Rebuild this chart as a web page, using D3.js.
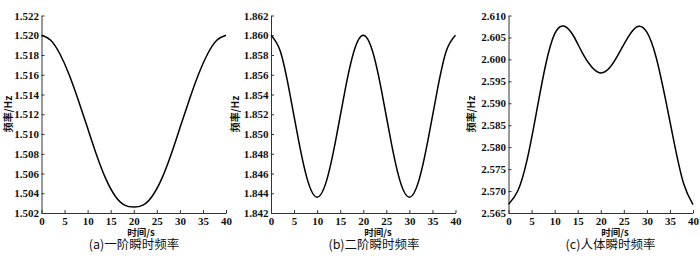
<!DOCTYPE html>
<html>
<head>
<meta charset="utf-8">
<script src="https://cdn.jsdelivr.net/npm/d3@7"></script>
<style>
  html, body { margin: 0; padding: 0; background: #fff; }
  svg text { fill: #111; }
  .num { font-family: "Liberation Serif", "DejaVu Serif", serif; font-weight: 700; font-size: 11px; }
</style>
</head>
<body>
<div id="chart"></div>
<script>
/* DATA */
const time = [0, 2, 4, 6, 8, 10, 12, 14, 16, 18, 20, 22, 24, 26, 28, 30, 32, 34, 36, 38, 40];

const freqFirst = [1.5200, 1.5195, 1.5181, 1.5160, 1.5134, 1.5106, 1.5078, 1.5054, 1.5037, 1.5028, 1.5026,
                   1.5028, 1.5037, 1.5054, 1.5078, 1.5106, 1.5134, 1.5160, 1.5181, 1.5195, 1.5200];
const freqSecond = [1.8600, 1.8584, 1.8543, 1.8493, 1.8452, 1.8436, 1.8452, 1.8493, 1.8543, 1.8584, 1.8600,
                    1.8584, 1.8543, 1.8493, 1.8452, 1.8436, 1.8452, 1.8493, 1.8543, 1.8584, 1.8600];
const freqBody = [2.5670, 2.5700, 2.5770, 2.5876, 2.5985, 2.6058, 2.6076, 2.6055, 2.6015, 2.5983, 2.5969,
                  2.5982, 2.6015, 2.6052, 2.6075, 2.6062, 2.6005, 2.5911, 2.5806, 2.5716, 2.5669];

const xTicks = [0, 5, 10, 15, 20, 25, 30, 35, 40];
const yTicksFirst = [1.502, 1.504, 1.506, 1.508, 1.510, 1.512, 1.514, 1.516, 1.518, 1.520, 1.522];
const yTicksSecond = [1.842, 1.844, 1.846, 1.848, 1.850, 1.852, 1.854, 1.856, 1.858, 1.860, 1.862];
const yTicksBody = [2.565, 2.570, 2.575, 2.580, 2.585, 2.590, 2.595, 2.600, 2.605, 2.610];

const captions = ["(a)一阶瞬时频率", "(b)二阶瞬时频率", "(c)人体瞬时频率"];
const xTitle = "时间/s";
const yTitle = "频率/Hz";

/* CONFIGURATION */
const config = { width: 700, height: 256, top: 15.5, bottom: 213, plotW: 184.5 };

const panels = [
  { left: 41.5,  values: freqFirst,  yTicks: yTicksFirst,  caption: captions[0], xTitleX: 141, capX: 134,   yTitleX: 8 },
  { left: 271,   values: freqSecond, yTicks: yTicksSecond, caption: captions[1], xTitleX: 378, capX: 374,   yTitleX: 235 },
  { left: 508.5, values: freqBody,   yTicks: yTicksBody,   caption: captions[2], xTitleX: 615, capX: 610.5, yTitleX: 470.5 }
];

const cjkFont = "'Noto Sans CJK SC', 'Noto Sans CJK JP', sans-serif";

const svg = d3.select("#chart")
  .append("svg")
  .attr("width", config.width)
  .attr("height", config.height);

panels.forEach(p => {
  const x = d3.scaleLinear()
    .domain([0, 40])
    .range([p.left, p.left + config.plotW]);

  const y = d3.scaleLinear()
    .domain([p.yTicks[0], p.yTicks[p.yTicks.length - 1]])
    .range([config.bottom, config.top]);

  // axes with inward ticks
  const gx = svg.append("g")
    .attr("transform", `translate(0,${config.bottom})`)
    .call(d3.axisBottom(x)
      .tickValues(xTicks)
      .tickSizeInner(-3)
      .tickSizeOuter(0)
      .tickPadding(4)
      .tickFormat(d3.format("d")));

  const gy = svg.append("g")
    .attr("transform", `translate(${p.left},0)`)
    .call(d3.axisLeft(y)
      .tickValues(p.yTicks)
      .tickSizeInner(-3)
      .tickSizeOuter(0)
      .tickPadding(2.5)
      .tickFormat(d3.format(".3f")));

  [gx, gy].forEach(g => {
    g.attr("font-family", null).attr("font-size", null);
    g.select(".domain").attr("stroke", "#333");
    g.selectAll(".tick line").attr("stroke", "#333");
    g.selectAll(".tick text")
      .attr("class", "num")
      .attr("fill", "#111");
  });
  gx.selectAll(".tick text").attr("dy", "0.71em");

  // curve
  const line = d3.line()
    .x((d, i) => x(time[i]))
    .y(d => y(d))
    .curve(d3.curveNatural);

  svg.append("path")
    .datum(p.values)
    .attr("d", line)
    .attr("fill", "none")
    .attr("stroke", "#000")
    .attr("stroke-width", 1.5);

  // axis titles
  svg.append("text")
    .attr("x", p.xTitleX)
    .attr("y", 235.5)
    .attr("text-anchor", "middle")
    .style("font-family", cjkFont)
    .style("font-weight", "bold")
    .style("font-size", "9.5px")
    .text(xTitle);

  svg.append("text")
    .attr("transform", `translate(${p.yTitleX + 4},114) rotate(-90)`)
    .attr("text-anchor", "middle")
    .style("font-family", cjkFont)
    .style("font-weight", "bold")
    .style("font-size", "10px")
    .text(yTitle);

  // caption
  svg.append("text")
    .attr("x", p.capX)
    .attr("y", 248.5)
    .attr("text-anchor", "middle")
    .style("font-family", cjkFont)
    .style("font-size", "12.5px")
    .text(p.caption);
});
</script>
</body>
</html>
